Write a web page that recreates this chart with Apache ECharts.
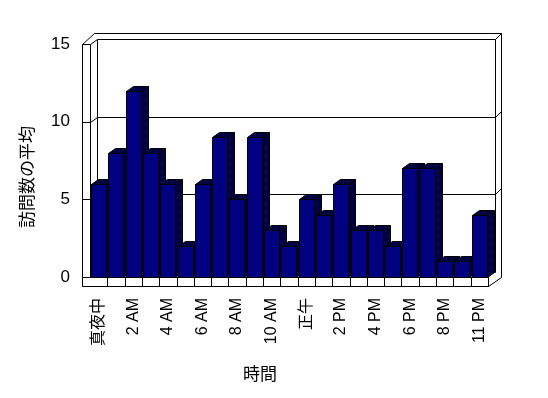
<!DOCTYPE html>
<html>
<head>
<meta charset="utf-8">
<script src="https://cdn.jsdelivr.net/npm/echarts@6/dist/echarts.min.js"></script>
<style>
  html, body { margin: 0; background: #fff; }
  #chart { width: 548px; height: 398px; }
</style>
</head>
<body>
<div id="chart"></div>
<script>
const hours = [
  "真夜中", "1 AM", "2 AM", "3 AM", "4 AM", "5 AM", "6 AM", "7 AM", "8 AM", "9 AM", "10 AM", "11 AM",
  "正午", "1 PM", "2 PM", "3 PM", "4 PM", "5 PM", "6 PM", "7 PM", "8 PM", "9 PM", "11 PM"
];
const visits = [6, 8, 12, 8, 6, 2, 6, 9, 5, 9, 3, 2, 5, 4, 6, 3, 3, 2, 7, 7, 1, 1, 4];
const yTicks = [0, 5, 10, 15];

const DX = 7;
const DY = 5;
const fontFamily = "'Liberation Sans', 'Noto Sans CJK JP', sans-serif";

function px(v) {
  return Math.round(v) + 0.5;
}

function makeDither() {
  const c = document.createElement("canvas");
  c.width = 2;
  c.height = 2;
  const ctx = c.getContext("2d");
  ctx.fillStyle = "#000000";
  ctx.fillRect(0, 0, 2, 2);
  ctx.fillStyle = "#000080";
  ctx.fillRect(0, 0, 1, 1);
  ctx.fillRect(1, 1, 1, 1);
  return c;
}

const dither = { image: makeDither(), repeat: "repeat" };
const lineStyle = { stroke: "#000", lineWidth: 1, fill: null };

function line(x1, y1, x2, y2) {
  return {
    type: "line",
    shape: { x1: px(x1), y1: px(y1), x2: px(x2), y2: px(y2) },
    style: lineStyle
  };
}

function renderFrame(params, api) {
  const cs = params.coordSys;
  const L = cs.x;
  const R = cs.x + cs.width;
  const T = api.coord([0, 15])[1];
  const B = api.coord([0, 0])[1];
  const band = api.size([1, 0])[0];
  const outL = L - 8;
  const outR = R + DX + 6;
  const outT = T - DY - 6;
  const floorB = B + 9;
  const children = [];

  // walls
  children.push(line(outL, T, outL, floorB));
  children.push(line(L, T, L, B));
  children.push(line(outL, T, outL + 12, outT));
  children.push(line(outL + 12, outT, outR, outT));
  children.push(line(outR, outT, outR, B));
  children.push(line(L + DX, T - DY, L + DX, B - DY));
  children.push(line(R + DX, T - DY, R + DX, B - DY));
  children.push(line(L + DX, B - DY, R + DX, B - DY));

  // grid lines on the back wall
  yTicks.forEach((v) => {
    if (v === 0) {
      return;
    }
    const y = api.coord([0, v])[1];
    children.push(line(outL, y, L, y));
    children.push(line(L, y, L + DX, y - DY));
    children.push(line(L + DX, y - DY, R + DX, y - DY));
    children.push(line(R + DX, y - DY, outR, y - DY - 6));
  });

  // floor front face
  children.push({
    type: "rect",
    shape: { x: px(outL), y: px(B), width: Math.round(R - outL), height: Math.round(floorB - B) },
    style: { fill: "#fff", stroke: "#000", lineWidth: 1 }
  });
  for (let i = 1; i <= hours.length; i++) {
    const x = L + band * i;
    children.push(line(x, B, x, floorB));
  }
  children.push(line(R, floorB, outR, B));

  return { type: "group", children };
}

function renderBar(params, api) {
  const idx = api.value(0);
  const top = api.coord([idx, api.value(1)]);
  const base = api.coord([idx, 0]);
  const band = api.size([1, 0])[0];
  const w = Math.round(band * 0.85);
  const x0 = Math.round(top[0] - band / 2 + 1) + 0.5;
  const yT = Math.round(top[1]) + 0.5;
  const yB = Math.round(base[1]) + 0.5;
  const x1 = x0 + w;
  const edge = { stroke: "#000", lineWidth: 1 };

  return {
    type: "group",
    children: [
      {
        type: "polygon",
        shape: { points: [[x1, yT], [x1 + DX, yT - DY], [x1 + DX, yB - DY], [x1, yB]] },
        style: Object.assign({ fill: dither }, edge)
      },
      {
        type: "polygon",
        shape: { points: [[x0, yT], [x0 + DX, yT - DY], [x1 + DX, yT - DY], [x1, yT]] },
        style: Object.assign({ fill: dither }, edge)
      },
      {
        type: "rect",
        shape: { x: x0, y: yT, width: w, height: yB - yT },
        style: Object.assign({ fill: "#000080" }, edge)
      }
    ]
  };
}

const chart = echarts.init(document.getElementById("chart"));

chart.setOption({
  animation: false,
  backgroundColor: "#fff",
  grid: {
    left: 90,
    right: 60,
    top: 44,
    bottom: 121
  },
  xAxis: {
    type: "category",
    data: hours,
    axisLine: { show: false },
    axisTick: { show: false },
    axisLabel: {
      interval: 1,
      rotate: 90,
      margin: 21,
      color: "#000",
      fontSize: 16,
      fontFamily
    }
  },
  yAxis: {
    type: "value",
    min: 0,
    max: 15,
    interval: 5,
    axisLine: { show: false },
    axisTick: { show: false },
    splitLine: { show: false },
    axisLabel: {
      margin: 20,
      color: "#000",
      fontSize: 17,
      fontFamily
    }
  },
  graphic: [
    {
      type: "text",
      x: 28,
      y: 177,
      rotation: Math.PI / 2,
      style: {
        text: "訪問数の平均",
        fill: "#000",
        fontSize: 17,
        fontFamily,
        align: "center",
        verticalAlign: "middle"
      }
    },
    {
      type: "text",
      x: 260,
      y: 375,
      style: {
        text: "時間",
        fill: "#000",
        fontSize: 17,
        fontFamily,
        align: "center",
        verticalAlign: "middle"
      }
    }
  ],
  series: [
    {
      type: "custom",
      z: 1,
      silent: true,
      data: [[0, 0]],
      renderItem: renderFrame
    },
    {
      type: "custom",
      z: 2,
      data: visits.map((v, i) => [i, v]),
      renderItem: renderBar
    }
  ]
});
</script>
</body>
</html>
